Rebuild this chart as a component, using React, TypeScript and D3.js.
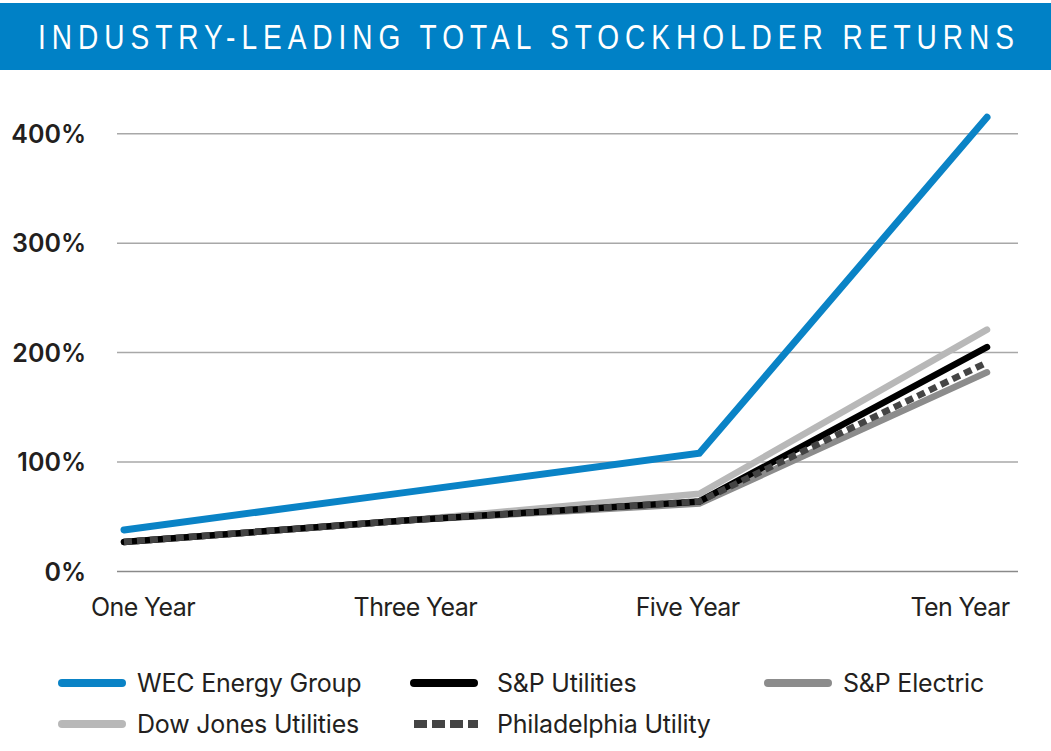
import React from "react";
import * as d3 from "d3";

const categories = ["One Year", "Three Year", "Five Year", "Ten Year"];
const yTicks = [0, 100, 200, 300, 400];

const wec = [38, 73, 108, 415];
const spUtilities = [27, 47, 64, 205];
const spElectric = [27, 47, 62, 182];
const dowJones = [27, 47, 71, 221];
const philadelphia = [27, 47, 64, 191];

const seriesNames = [
  "WEC Energy Group",
  "S&P Utilities",
  "S&P Electric",
  "Dow Jones Utilities",
  "Philadelphia Utility",
];

const W = 1051;
const H = 751;
const TITLE_SCALE = 0.78;

export default function App() {
  const x = d3.scalePoint<string>().domain(categories).range([124, 987]);
  const xLabel = d3.scalePoint<string>().domain(categories).range([143, 960]);
  const y = d3.scaleLinear().domain([0, 400]).range([571.5, 133.7]);

  const line = d3
    .line<number>()
    .x((_, i) => x(categories[i]) as number)
    .y((d) => y(d));

  const styles: Record<string, { color: string; dash?: string; cap: string }> = {
    "WEC Energy Group": { color: "#0A83C6", cap: "round" },
    "S&P Utilities": { color: "#000000", cap: "round" },
    "S&P Electric": { color: "#8C8C8C", cap: "round" },
    "Dow Jones Utilities": { color: "#B8B8B8", cap: "round" },
    "Philadelphia Utility": { color: "#444444", dash: "8 5", cap: "butt" },
  };
  const data: Record<string, number[]> = {
    "WEC Energy Group": wec,
    "S&P Utilities": spUtilities,
    "S&P Electric": spElectric,
    "Dow Jones Utilities": dowJones,
    "Philadelphia Utility": philadelphia,
  };
  const drawOrder = [
    "S&P Electric",
    "Dow Jones Utilities",
    "S&P Utilities",
    "Philadelphia Utility",
    "WEC Energy Group",
  ];

  const legendPos: Record<string, [number, number, number]> = {
    "WEC Energy Group": [58, 683, 137],
    "S&P Utilities": [410, 683, 497],
    "S&P Electric": [764, 683, 843],
    "Dow Jones Utilities": [58, 724, 137],
    "Philadelphia Utility": [410, 724, 497],
  };

  const fontBody = "Inter, 'Noto Sans', sans-serif";

  return (
    <svg
      width={W}
      height={H}
      style={{ position: "absolute", left: 0, top: 0, background: "#fff" }}
    >
      <rect x={0} y={0} width={W} height={H} fill="#fff" />
      <rect x={0} y={3} width={W} height={67} fill="#0081C6" />
      <g transform={`translate(38,49) scale(${TITLE_SCALE},1)`}>
        <text
          x={0}
          y={0}
          fill="#fff"
          fontFamily="'Liberation Sans', Arial, sans-serif"
          fontSize={36}
          textLength={976 / TITLE_SCALE}
          lengthAdjust="spacing"
        >
          INDUSTRY-LEADING TOTAL STOCKHOLDER RETURNS
        </text>
      </g>

      {yTicks.map((t) => (
        <g key={t}>
          <line
            x1={117}
            x2={1018}
            y1={y(t)}
            y2={y(t)}
            stroke={t === 0 ? "#8a8a8a" : "#a8a8a8"}
            strokeWidth={1.5}
          />
          <text
            x={86}
            y={y(t)}
            dy="0.36em"
            textAnchor="end"
            fontFamily={fontBody}
            fontWeight={600}
            fontSize={25}
            fill="#231f20"
          >
            {t}%
          </text>
        </g>
      ))}

      {categories.map((c) => (
        <text
          key={c}
          x={xLabel(c)}
          y={615.5}
          textAnchor="middle"
          fontFamily={fontBody}
          fontSize={25}
          letterSpacing={-0.6}
          fill="#231f20"
        >
          {c}
        </text>
      ))}

      {drawOrder.map((name) => (
        <path
          key={name}
          d={line(data[name]) || ""}
          fill="none"
          stroke={styles[name].color}
          strokeWidth={name === "WEC Energy Group" ? 7 : 6.5}
          strokeLinecap={styles[name].cap as any}
          strokeLinejoin="miter"
          strokeDasharray={styles[name].dash}
        />
      ))}

      {seriesNames.map((name) => {
        const [lx, ly, tx] = legendPos[name];
        const s = styles[name];
        return (
          <g key={name}>
            <line
              x1={lx + 4}
              x2={lx + (s.dash ? 68 : 64)}
              y1={ly}
              y2={ly}
              stroke={s.color}
              strokeWidth={8}
              strokeLinecap={s.cap as any}
              strokeDasharray={s.dash ? "13 5" : undefined}
            />
            <text
              x={tx}
              y={ly}
              dy="0.36em"
              fontFamily={fontBody}
              fontSize={25}
              letterSpacing={-0.2}
              fill="#231f20"
            >
              {name}
            </text>
          </g>
        );
      })}
    </svg>
  );
}
